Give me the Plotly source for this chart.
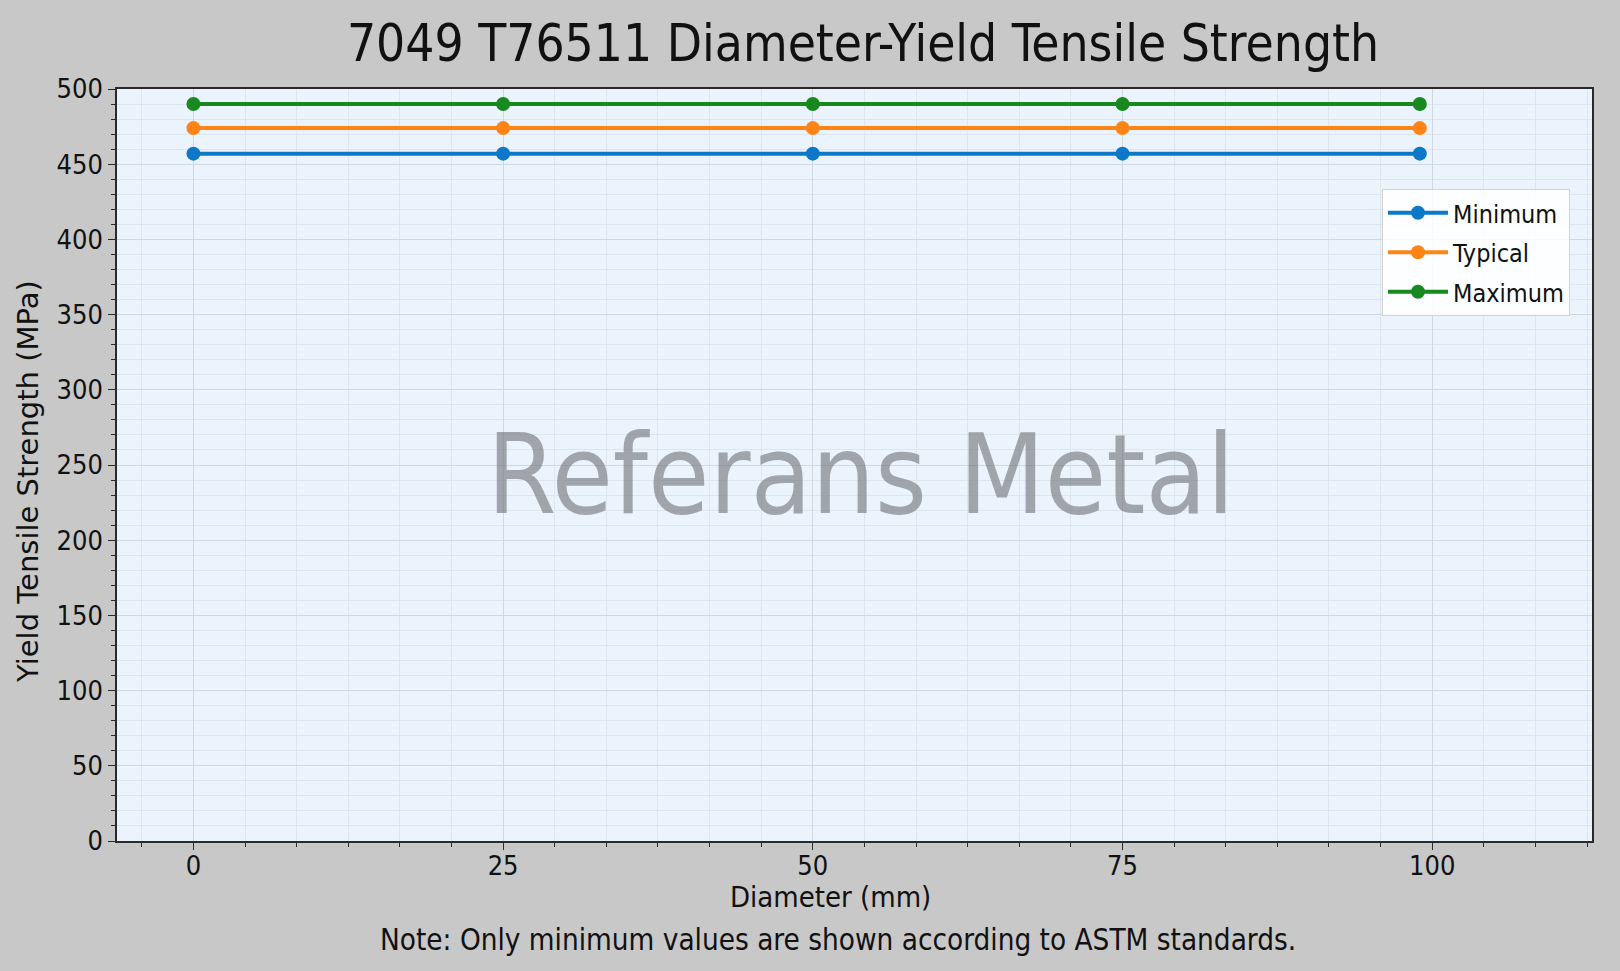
import plotly.graph_objects as go

# Dados do gráfico
diametros = [0, 25, 50, 75, 99]
minimo = [457, 457, 457, 457, 457]
tipico = [474, 474, 474, 474, 474]
maximo = [490, 490, 490, 490, 490]

nomes_series = ["Minimum", "Typical", "Maximum"]
cores = ["#0d78c8", "#ff8418", "#17891f"]

titulo = "7049 T76511 Diameter-Yield Tensile Strength"
rotulo_x = "Diameter (mm)"
rotulo_y = "Yield Tensile Strength (MPa)"
nota = "Note: Only minimum values are shown according to ASTM standards."
marca_dagua = "Referans Metal"

x_ticks = [0, 25, 50, 75, 100]
y_ticks = [0, 50, 100, 150, 200, 250, 300, 350, 400, 450, 500]

FONTE = "DejaVu Sans Condensed, DejaVu Sans, sans-serif"

fig = go.Figure()

for nome, valores, cor in zip(nomes_series, [minimo, tipico, maximo], cores):
    fig.add_trace(go.Scatter(
        x=diametros,
        y=valores,
        mode='lines+markers',
        name=nome,
        legendgroup=nome,
        line=dict(color=cor, width=4),
        marker=dict(color=cor, size=14)
    ))

eixo_comum = dict(
    showline=True,
    linecolor='#2a2a2a',
    linewidth=1.5,
    mirror=True,
    ticks='outside',
    ticklen=7,
    tickwidth=1.2,
    tickcolor='#2a2a2a',
    showgrid=True,
    gridcolor='#cfd7df',
    gridwidth=1,
    zeroline=False,
    tickfont=dict(family=FONTE, size=27, color='#111111'),
)

fig.update_xaxes(
    range=[-6.17, 112.9],
    tickmode='array',
    tickvals=x_ticks,
    ticklabelstandoff=-7,
    minor=dict(dtick=25 / 6, tick0=0, ticks='outside', ticklen=4, tickcolor='#2a2a2a',
               showgrid=True, gridcolor='#dde6ef', gridwidth=1),
    **eixo_comum
)
fig.update_yaxes(
    range=[0, 500],
    tickmode='array',
    tickvals=y_ticks,
    minor=dict(dtick=10, tick0=0, ticks='outside', ticklen=4, tickcolor='#2a2a2a',
               showgrid=True, gridcolor='#dde6ef', gridwidth=1),
    **eixo_comum
)

# Marca d'água no centro da área do gráfico
fig.add_annotation(
    text=marca_dagua, xref='paper', yref='paper', x=0.504, y=0.487,
    showarrow=False, font=dict(family=FONTE, size=111, color='rgba(110,113,118,0.6)')
)

# Rótulos dos eixos e nota de rodapé
fig.add_annotation(
    text=rotulo_x, xref='paper', yref='paper', x=(830 - 117) / 1475, y=-(897 - 841) / 752,
    showarrow=False, font=dict(family=FONTE, size=29, color='#111111'), yanchor='middle'
)
fig.add_annotation(
    text=nota, xref='paper', yref='paper', x=(838 - 117) / 1475, y=-(940 - 841) / 752,
    showarrow=False, font=dict(family=FONTE, size=29.4, color='#111111'), yanchor='middle'
)
fig.add_annotation(
    text=rotulo_y, xref='paper', yref='paper', x=(28 - 117) / 1475, y=(841 - 482) / 752,
    showarrow=False, textangle=-90,
    font=dict(family="DejaVu Sans, sans-serif", size=29, color='#111111'),
    xanchor='center', yanchor='middle'
)

fig.update_layout(
    width=1620,
    height=971,
    title=dict(
        text=titulo,
        x=863 / 1620,
        xanchor='center',
        y=1 - 43 / 971,
        yanchor='middle',
        font=dict(family=FONTE, size=51, color='#111111')
    ),
    paper_bgcolor='#c8c8c8',
    plot_bgcolor='#ebf3fc',
    legend=dict(
        x=(1382 - 117) / 1475,
        y=(841 - 189) / 752,
        xanchor='left',
        yanchor='top',
        bgcolor='rgba(255,255,255,0.85)',
        bordercolor='#d4d4d4',
        borderwidth=1,
        font=dict(family=FONTE, size=25, color='#111111'),
        tracegroupgap=4,
        itemwidth=60
    ),
    margin=dict(l=117, r=28, t=89, b=130),
    showlegend=True
)

# remove a margem padrão do <body> para a figura começar no canto
fig.write_html("out.html", config={'displayModeBar': False},
               post_script="document.body.style.margin='0';")
